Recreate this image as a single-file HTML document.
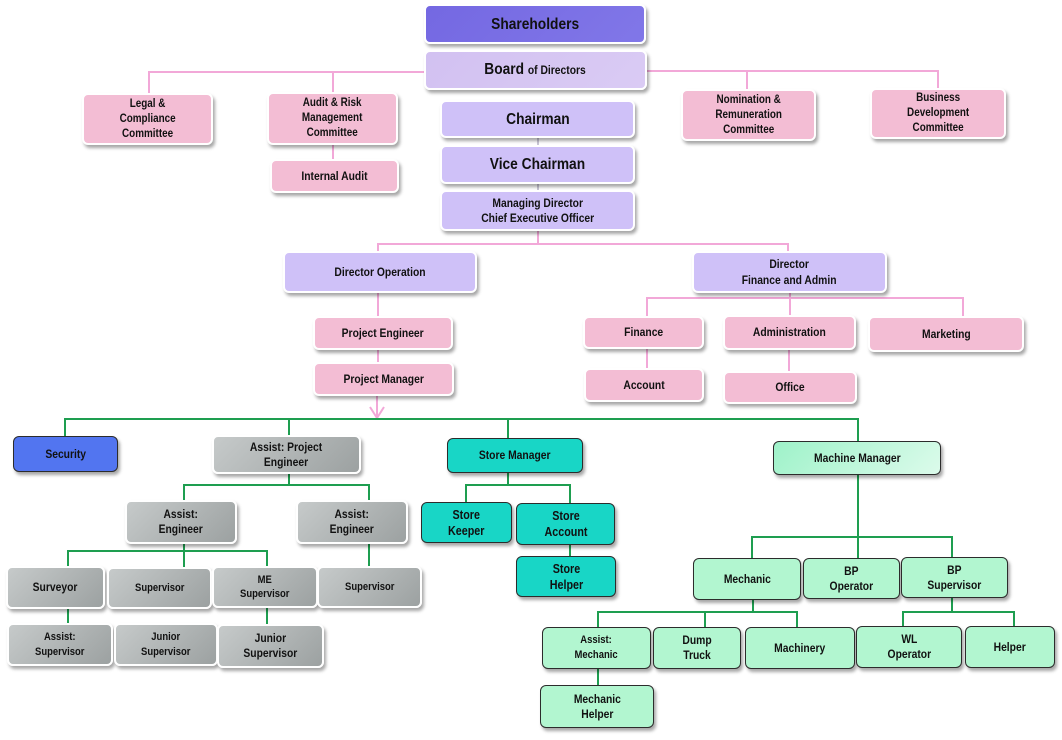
<!DOCTYPE html>
<html><head><meta charset="utf-8"><style>
html,body{margin:0;padding:0;background:#fff;}
#c{position:relative;width:1062px;height:740px;overflow:hidden;background:#fff;font-family:"Liberation Sans",Arial,sans-serif;font-weight:bold;color:#111;}
svg{position:absolute;left:0;top:0;}
.b{position:absolute;box-sizing:border-box;border-radius:6px;display:flex;align-items:center;justify-content:center;text-align:center;font-size:12px;line-height:15px;box-shadow:2px 3px 3px rgba(0,0,0,.35);}
.b span{display:inline-block;transform:scaleX(.86);white-space:nowrap;}
.w{border:2px solid #fff;}
.d{border:1.5px solid #2c2c2c;}
.sh{background:linear-gradient(135deg,#7468e2,#8177e8);}
.bd{background:linear-gradient(135deg,#d2c1f1,#dacbf4);}
.pu{background:#cfc1f8;}
.pk{background:#f3bdd4;}
.gr{background:linear-gradient(135deg,#c6caca,#9ca1a1);}
.tl{background:#18d6c6;}
.mt{background:#b2f6d0;}
.mm{background:linear-gradient(135deg,#9ef2c9,#dcfbeb);}
.bl{background:#5275f0;}
</style></head><body><div id="c">
<svg width="1062" height="740">
<g fill="none" stroke="#f2a8d8" stroke-width="2">
<path d="M149,94 V72 H425"/>
<path d="M645,71 H938 V89"/>
<path d="M333,72 V93"/>
<path d="M747,71 V90"/>
<path d="M333,144 V160"/>
<path d="M538,230 V244"/>
<path d="M378,251 V244 H788 V252"/>
<path d="M378,292 V317"/>
<path d="M378,349 V363"/>
<path d="M377,395 V418"/>
<path d="M370,407 L377,418 L384,407"/>
<path d="M790,292 V298"/>
<path d="M647,317 V298 H963 V317"/>
<path d="M790,298 V316"/>
<path d="M647,348 V369"/>
<path d="M789,349 V372"/>
</g>
<g fill="none" stroke="#b8b4c8" stroke-width="1.5">
<path d="M538,137 V145"/>
<path d="M538,183 V190"/>
</g>
<g fill="none" stroke="#1e9e50" stroke-width="2">
<path d="M65,436 V419 H858 V441"/>
<path d="M289,419 V436"/>
<path d="M508,419 V438"/>
<path d="M289,473 V485"/>
<path d="M184,501 V485 H369 V501"/>
<path d="M184,543 V551"/>
<path d="M68,567 V551 H267 V567"/>
<path d="M184,551 V568"/>
<path d="M369,543 V567"/>
<path d="M68,608 V624"/>
<path d="M267,607 V625"/>
<path d="M508,473 V485"/>
<path d="M466,502 V485 H570 V503"/>
<path d="M570,545 V556"/>
<path d="M858,475 V558"/>
<path d="M752,558 V537 H952 V557"/>
<path d="M753,600 V612"/>
<path d="M598,627 V612 H797 V627"/>
<path d="M705,612 V627"/>
<path d="M952,598 V612"/>
<path d="M903,626 V612 H1014 V626"/>
<path d="M598,669 V685"/>
</g>
</svg>

<!-- top -->
<div class="b w sh" style="left:424px;top:4px;width:222px;height:40px;font-size:16px;"><span>Shareholders</span></div>
<div class="b w bd" style="left:424px;top:50px;width:223px;height:40px;font-size:16px;"><span>Board <span style="font-size:12px;transform:none;">of Directors</span></span></div>

<div class="b w pk" style="left:82px;top:93px;width:131px;height:52px;font-size:11.5px;"><span>Legal &amp;<br>Compliance<br>Committee</span></div>
<div class="b w pk" style="left:267px;top:92px;width:131px;height:53px;font-size:11.5px;line-height:15px;"><span>Audit &amp; Risk<br>Management<br>Committee</span></div>
<div class="b w pk" style="left:270px;top:159px;width:129px;height:34px;"><span>Internal Audit</span></div>
<div class="b w pk" style="left:681px;top:89px;width:135px;height:52px;font-size:11.5px;"><span>Nomination &amp;<br>Remuneration<br>Committee</span></div>
<div class="b w pk" style="left:870px;top:88px;width:136px;height:51px;font-size:11.5px;"><span>Business<br>Development<br>Committee</span></div>

<div class="b w pu" style="left:440px;top:100px;width:195px;height:38px;font-size:16px;"><span>Chairman</span></div>
<div class="b w pu" style="left:440px;top:145px;width:195px;height:39px;font-size:16px;"><span>Vice Chairman</span></div>
<div class="b w pu" style="left:440px;top:190px;width:195px;height:41px;"><span>Managing Director<br>Chief Executive Officer</span></div>

<div class="b w pu" style="left:283px;top:251px;width:194px;height:42px;"><span>Director Operation</span></div>
<div class="b w pu" style="left:692px;top:251px;width:195px;height:42px;line-height:16px;"><span>Director<br>Finance and Admin</span></div>

<div class="b w pk" style="left:313px;top:316px;width:140px;height:34px;"><span>Project Engineer</span></div>
<div class="b w pk" style="left:313px;top:362px;width:141px;height:34px;"><span>Project Manager</span></div>

<div class="b w pk" style="left:583px;top:316px;width:121px;height:33px;"><span>Finance</span></div>
<div class="b w pk" style="left:723px;top:315px;width:133px;height:35px;"><span>Administration</span></div>
<div class="b w pk" style="left:868px;top:316px;width:156px;height:36px;"><span>Marketing</span></div>
<div class="b w pk" style="left:584px;top:368px;width:120px;height:34px;"><span>Account</span></div>
<div class="b w pk" style="left:723px;top:371px;width:134px;height:33px;"><span>Office</span></div>

<!-- bottom -->
<div class="b d bl" style="left:13px;top:436px;width:105px;height:36px;"><span>Security</span></div>
<div class="b w gr" style="left:212px;top:435px;width:149px;height:39px;"><span>Assist: Project<br>Engineer</span></div>
<div class="b w gr" style="left:125px;top:500px;width:112px;height:44px;"><span>Assist:<br>Engineer</span></div>
<div class="b w gr" style="left:296px;top:500px;width:112px;height:44px;"><span>Assist:<br>Engineer</span></div>

<div class="b w gr" style="left:6px;top:566px;width:99px;height:43px;"><span>Surveyor</span></div>
<div class="b w gr" style="left:107px;top:567px;width:105px;height:42px;font-size:11px;"><span>Supervisor</span></div>
<div class="b w gr" style="left:212px;top:566px;width:106px;height:42px;font-size:11px;line-height:14px;"><span>ME<br>Supervisor</span></div>
<div class="b w gr" style="left:317px;top:566px;width:105px;height:42px;font-size:11px;"><span>Supervisor</span></div>
<div class="b w gr" style="left:7px;top:623px;width:106px;height:43px;font-size:11px;"><span>Assist:<br>Supervisor</span></div>
<div class="b w gr" style="left:114px;top:623px;width:104px;height:43px;font-size:11px;"><span>Junior<br>Supervisor</span></div>
<div class="b w gr" style="left:217px;top:624px;width:107px;height:44px;"><span>Junior<br>Supervisor</span></div>

<div class="b d tl" style="left:447px;top:438px;width:136px;height:35px;"><span>Store Manager</span></div>
<div class="b d tl" style="left:421px;top:502px;width:91px;height:41px;font-size:12.5px;line-height:16px;"><span>Store<br>Keeper</span></div>
<div class="b d tl" style="left:516px;top:503px;width:99px;height:42px;font-size:12.5px;line-height:16px;"><span>Store<br>Account</span></div>
<div class="b d tl" style="left:516px;top:556px;width:100px;height:41px;font-size:12.5px;line-height:16px;"><span>Store<br>Helper</span></div>

<div class="b d mm" style="left:773px;top:441px;width:168px;height:34px;"><span>Machine Manager</span></div>
<div class="b d mt" style="left:693px;top:558px;width:108px;height:42px;"><span>Mechanic</span></div>
<div class="b d mt" style="left:803px;top:558px;width:97px;height:41px;"><span>BP<br>Operator</span></div>
<div class="b d mt" style="left:901px;top:557px;width:107px;height:41px;"><span>BP<br>Supervisor</span></div>

<div class="b d mt" style="left:542px;top:627px;width:109px;height:42px;font-size:11px;"><span>Assist:<br>Mechanic</span></div>
<div class="b d mt" style="left:653px;top:627px;width:88px;height:42px;"><span>Dump<br>Truck</span></div>
<div class="b d mt" style="left:745px;top:627px;width:110px;height:42px;"><span>Machinery</span></div>
<div class="b d mt" style="left:856px;top:626px;width:106px;height:42px;"><span>WL<br>Operator</span></div>
<div class="b d mt" style="left:965px;top:626px;width:90px;height:42px;"><span>Helper</span></div>
<div class="b d mt" style="left:540px;top:685px;width:114px;height:43px;"><span>Mechanic<br>Helper</span></div>
</div></body></html>
